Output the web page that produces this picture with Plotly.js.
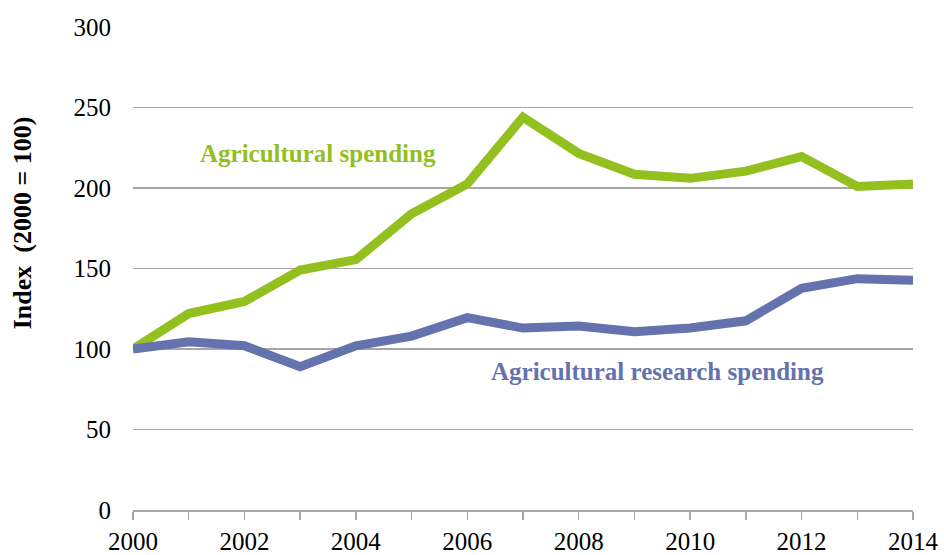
<!DOCTYPE html>
<html>
<head>
<meta charset="utf-8">
<script src="https://cdn.plot.ly/plotly-3.0.1.min.js"></script>
<style>html,body{margin:0;padding:0;background:#fff;}#chart{width:944px;height:555px;}</style>
</head>
<body>
<div id="chart"></div>
<script>
const years = [2000,2001,2002,2003,2004,2005,2006,2007,2008,2009,2010,2011,2012,2013,2014];
const agSpending = [100,122,129.5,149,155.5,184,202.5,244,221.5,208.5,206,210.5,219.5,201,202.5];
const agResearch = [100,104.5,102,89,102,108,119.5,113,114.3,110.7,113,117.5,137.7,143.7,142.7];
const yTicks = [0,50,100,150,200,250,300];
const xTickVals = [2000,2002,2004,2006,2008,2010,2012,2014];

const serif = "'Liberation Serif', 'Times New Roman', serif";
const green = '#93c01f';
const blue = '#6473ae';

const traces = [
  {x: years, y: agSpending, mode: 'lines', line: {color: green, width: 9}, hoverinfo: 'skip'},
  {x: years, y: agResearch, mode: 'lines', line: {color: blue, width: 9}, hoverinfo: 'skip'}
];

const layout = {
  width: 944, height: 555,
  margin: {l: 133, r: 31, t: 27, b: 45},
  paper_bgcolor: '#fff', plot_bgcolor: '#fff',
  showlegend: false,
  font: {family: serif, color: '#000', size: 25},
  xaxis: {
    range: [2000, 2014], tickvals: xTickVals, ticktext: xTickVals.map(String),
    showgrid: false, zeroline: false,
    showline: true, linecolor: '#a6a6a6', linewidth: 1.5,
    ticks: 'outside', ticklen: 8, tickcolor: '#a6a6a6', tickwidth: 1.5,
    minor: {dtick: 1, tick0: 2000, ticks: 'outside', ticklen: 8, tickcolor: '#a6a6a6', tickwidth: 1.5, showgrid: false},
    tickfont: {family: serif, size: 25, color: '#000'}, fixedrange: true
  },
  yaxis: {
    range: [0, 300], tickvals: yTicks, ticktext: yTicks.map(String),
    showgrid: true, gridcolor: '#a6a6a6', gridwidth: 1.5,
    zeroline: false, showline: false, ticks: '', ticklabelstandoff: 21,
    tickfont: {family: serif, size: 25, color: '#000'}, fixedrange: true
  },
  annotations: [
    {xref: 'x', yref: 'y', x: 2003.32, y: 221.5, text: '<b>Agricultural spending</b>', showarrow: false,
     font: {family: serif, size: 25, color: green, weight: 'bold'}, xanchor: 'center', yanchor: 'middle'},
    {xref: 'x', yref: 'y', x: 2009.42, y: 86.3, text: '<b>Agricultural research spending</b>', showarrow: false,
     font: {family: serif, size: 25, color: blue, weight: 'bold'}, xanchor: 'center', yanchor: 'middle'},
    {xref: 'paper', yref: 'paper', x: -0.142, y: 0.594, text: '<b>Index  (2000 = 100)</b>', showarrow: false,
     textangle: -90, font: {family: serif, size: 26, color: '#000', weight: 'bold'}, xanchor: 'center', yanchor: 'middle'}
  ]
};

Plotly.newPlot('chart', traces, layout, {staticPlot: true, displayModeBar: false});
</script>
</body>
</html>
